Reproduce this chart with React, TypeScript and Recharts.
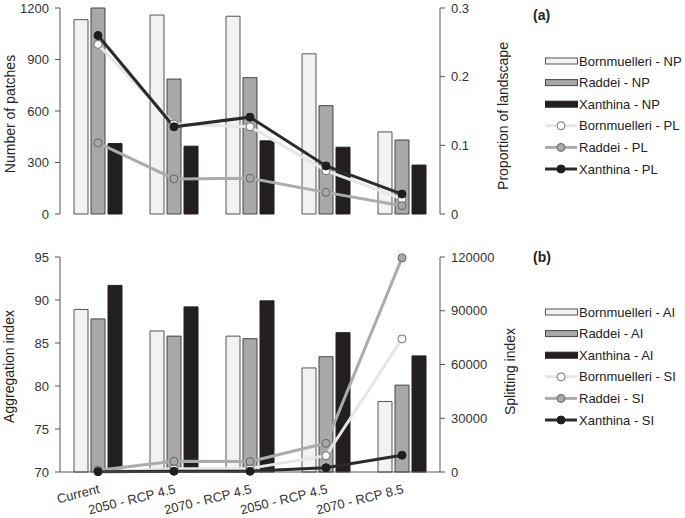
import React from 'react';
import { ComposedChart, Bar, Line, XAxis, YAxis, Legend } from 'recharts';

const categories = ['Current', '2050 - RCP 4.5', '2070 - RCP 4.5', '2050 - RCP 4.5', '2070 - RCP 8.5'];

// Panel (a)
const npBornmuelleri = [1132, 1159, 1152, 933, 478];
const npRaddei = [1200, 786, 794, 631, 431];
const npXanthina = [410, 395, 426, 389, 285];
const plBornmuelleri = [0.247, 0.131, 0.127, 0.063, 0.022];
const plRaddei = [0.1035, 0.051, 0.052, 0.0315, 0.012];
const plXanthina = [0.26, 0.127, 0.141, 0.07, 0.029];

// Panel (b)
const aiBornmuelleri = [88.9, 86.4, 85.8, 82.1, 78.2];
const aiRaddei = [87.8, 85.8, 85.5, 83.4, 80.1];
const aiXanthina = [91.7, 89.2, 89.9, 86.2, 83.5];
const siBornmuelleri = [300, 1800, 2000, 9100, 74300];
const siRaddei = [1000, 6000, 5800, 16000, 119500];
const siXanthina = [200, 400, 400, 2400, 9400];

const npTicks = [0, 300, 600, 900, 1200];
const plTicks = [0, 0.1, 0.2, 0.3];
const aiTicks = [70, 75, 80, 85, 90, 95];
const siTicks = [0, 30000, 60000, 90000, 120000];

const legendA = ['Bornmuelleri - NP', 'Raddei - NP', 'Xanthina - NP', 'Bornmuelleri - PL', 'Raddei - PL', 'Xanthina - PL'];
const legendB = ['Bornmuelleri - AI', 'Raddei - AI', 'Xanthina - AI', 'Bornmuelleri - SI', 'Raddei - SI', 'Xanthina - SI'];

const dataA = categories.map((c, i) => ({
  cat: c,
  npB: npBornmuelleri[i],
  npR: npRaddei[i],
  npX: npXanthina[i],
  plB: plBornmuelleri[i],
  plR: plRaddei[i],
  plX: plXanthina[i],
}));

const dataB = categories.map((c, i) => ({
  cat: c,
  aiB: aiBornmuelleri[i],
  aiR: aiRaddei[i],
  aiX: aiXanthina[i],
  siB: siBornmuelleri[i],
  siR: siRaddei[i],
  siX: siXanthina[i],
}));

const FONT = '"Liberation Sans", Arial, sans-serif';
const AXIS = '#555';
const TEXT = '#333';

const WHITE = { fill: '#f2f2f2', stroke: '#555' };
const GREY = { fill: '#a8a8a8', stroke: '#444' };
const BLACK = { fill: '#231f20', stroke: '#231f20' };

const LINE_B = { stroke: '#e6e6e6', dot: { r: 4, fill: '#ffffff', stroke: '#707070', strokeWidth: 1 } };
const LINE_R = { stroke: '#ababab', dot: { r: 4, fill: '#a8a8a8', stroke: '#666', strokeWidth: 1 } };
const LINE_X = { stroke: '#2b2b2b', dot: { r: 4, fill: '#1e1e1e', stroke: '#1e1e1e', strokeWidth: 1 } };

const tickStyle = { fontSize: 13, fill: TEXT, fontFamily: FONT };
const titleStyle = { fontSize: 14, fill: '#222', fontFamily: FONT };

function makeLegend(tag: string, labels: string[], firstRow: number, tagY: number) {
  return () => {
    const styles = [WHITE, GREY, BLACK, LINE_B, LINE_R, LINE_X];
    return (
      <svg width={155} height={firstRow + 6 * 22} style={{ display: 'block' }}>
        <text x={3} y={tagY} dominantBaseline="central" fontWeight="bold" fontSize={14} fill="#222" fontFamily={FONT}>
          {tag}
        </text>
        {labels.map((lab, i) => {
          const y = firstRow + i * 21.6;
          const s: any = styles[i];
          return (
            <g key={i}>
              {i < 3 ? (
                <rect x={15.5} y={y - 3} width={32} height={6} fill={s.fill} stroke={s.stroke} strokeWidth={1} />
              ) : (
                <g>
                  <line x1={15} x2={47} y1={y} y2={y} stroke={s.stroke} strokeWidth={3} />
                  <circle cx={31} cy={y} r={4} fill={s.dot.fill} stroke={s.dot.stroke} strokeWidth={1} />
                </g>
              )}
              <text x={49} y={y} dominantBaseline="central" fontSize={13} fill="#222" fontFamily={FONT}>
                {lab}
              </text>
            </g>
          );
        })}
      </svg>
    );
  };
}

export default function App() {
  return (
    <div style={{ position: 'absolute', left: 0, top: 0, width: 685, height: 518, background: '#fff', fontFamily: FONT }}>
      <div style={{ position: 'absolute', left: 0, top: 0 }}>
        <ComposedChart width={685} height={230} data={dataA} margin={{ top: 8, right: 119, bottom: 16, left: 0 }} barGap={3}>
          <XAxis dataKey="cat" hide />
          <YAxis
            yAxisId="left"
            orientation="left"
            width={60}
            domain={[0, 1200]}
            ticks={npTicks}
            tick={tickStyle}
            tickSize={5}
            tickMargin={6}
            axisLine={{ stroke: AXIS }}
            tickLine={{ stroke: AXIS }}
            label={{ value: 'Number of patches', angle: -90, position: 'center', dx: -20, dy: 3, style: titleStyle }}
          />
          <YAxis
            yAxisId="right"
            orientation="right"
            width={126}
            domain={[0, 0.3]}
            ticks={plTicks}
            tick={tickStyle}
            tickSize={5}
            tickMargin={6}
            axisLine={{ stroke: AXIS }}
            tickLine={{ stroke: AXIS }}
            label={{ value: 'Proportion of landscape', angle: -90, position: 'center', dx: 0, dy: 5, style: titleStyle }}
          />
          <Bar yAxisId="left" dataKey="npB" barSize={14} fill={WHITE.fill} stroke={WHITE.stroke} isAnimationActive={false} />
          <Bar yAxisId="left" dataKey="npR" barSize={14} fill={GREY.fill} stroke={GREY.stroke} isAnimationActive={false} />
          <Bar yAxisId="left" dataKey="npX" barSize={14} fill={BLACK.fill} stroke={BLACK.stroke} isAnimationActive={false} />
          <Line yAxisId="right" dataKey="plB" type="linear" stroke={LINE_B.stroke} strokeWidth={3} dot={LINE_B.dot} isAnimationActive={false} />
          <Line yAxisId="right" dataKey="plR" type="linear" stroke={LINE_R.stroke} strokeWidth={3} dot={LINE_R.dot} isAnimationActive={false} />
          <Line yAxisId="right" dataKey="plX" type="linear" stroke={LINE_X.stroke} strokeWidth={3} dot={LINE_X.dot} isAnimationActive={false} />
          <Legend
            layout="vertical"
            align="center"
            verticalAlign="middle"
            wrapperStyle={{ left: 530, top: 0, width: 155 }}
            content={makeLegend('(a)', legendA, 61, 15)}
          />
        </ComposedChart>
      </div>
      <div style={{ position: 'absolute', left: 0, top: 230 }}>
        <ComposedChart width={685} height={288} data={dataB} margin={{ top: 27, right: 119, bottom: 0, left: 0 }} barGap={3}>
          <XAxis
            dataKey="cat"
            height={46}
            tickLine={false}
            tickSize={6}
            tickMargin={6}
            axisLine={{ stroke: AXIS }}
            angle={-14}
            textAnchor="end"
            interval={0}
            tick={tickStyle}
          />
          <YAxis
            yAxisId="left"
            orientation="left"
            width={60}
            domain={[70, 95]}
            ticks={aiTicks}
            tick={tickStyle}
            tickSize={5}
            tickMargin={6}
            axisLine={{ stroke: AXIS }}
            tickLine={{ stroke: AXIS }}
            label={{ value: 'Aggregation index', angle: -90, position: 'center', dx: -21, dy: 2, style: titleStyle }}
          />
          <YAxis
            yAxisId="right"
            orientation="right"
            width={126}
            domain={[0, 120000]}
            ticks={siTicks}
            tick={tickStyle}
            tickSize={5}
            tickMargin={6}
            axisLine={{ stroke: AXIS }}
            tickLine={{ stroke: AXIS }}
            label={{ value: 'Splitting index', angle: -90, position: 'center', dx: 7, dy: 7, style: titleStyle }}
          />
          <Bar yAxisId="left" dataKey="aiB" barSize={14} fill={WHITE.fill} stroke={WHITE.stroke} isAnimationActive={false} />
          <Bar yAxisId="left" dataKey="aiR" barSize={14} fill={GREY.fill} stroke={GREY.stroke} isAnimationActive={false} />
          <Bar yAxisId="left" dataKey="aiX" barSize={14} fill={BLACK.fill} stroke={BLACK.stroke} isAnimationActive={false} />
          <Line yAxisId="right" dataKey="siB" type="linear" stroke={LINE_B.stroke} strokeWidth={3} dot={LINE_B.dot} isAnimationActive={false} />
          <Line yAxisId="right" dataKey="siR" type="linear" stroke={LINE_R.stroke} strokeWidth={3} dot={LINE_R.dot} isAnimationActive={false} />
          <Line yAxisId="right" dataKey="siX" type="linear" stroke={LINE_X.stroke} strokeWidth={3} dot={LINE_X.dot} isAnimationActive={false} />
          <Legend
            layout="vertical"
            align="center"
            verticalAlign="middle"
            wrapperStyle={{ left: 530, top: 0, width: 155 }}
            content={makeLegend('(b)', legendB, 82, 27)}
          />
        </ComposedChart>
      </div>
    </div>
  );
}
